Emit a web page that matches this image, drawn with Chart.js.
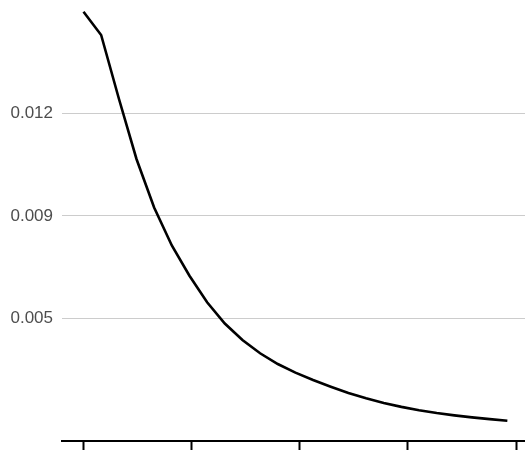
<!DOCTYPE html>
<html>
<head>
<meta charset="utf-8">
<script src="https://cdn.jsdelivr.net/npm/chart.js@4/dist/chart.umd.min.js"></script>
<style>
  html, body { margin: 0; padding: 0; background: #ffffff; }
  #wrap { width: 525px; height: 451px; position: relative; overflow: hidden; }
</style>
</head>
<body>
<div id="wrap"><canvas id="c" width="525" height="451"></canvas></div>
<script>
// Decay curve: x positions and density values
const xValues = [0, 4.08, 8.17, 12.25, 16.33, 20.42, 24.5, 28.58, 32.67, 36.75, 40.83, 44.92, 49,
                 53.08, 57.17, 61.25, 65.33, 69.42, 73.5, 77.58, 81.67, 85.75, 89.83, 93.92, 98];
const yValues = [0.015463, 0.014668, 0.012504, 0.010443, 0.008790, 0.007495, 0.006465, 0.005560,
                 0.004836, 0.004274, 0.003821, 0.003456, 0.003160, 0.002910, 0.002683, 0.002470,
                 0.002285, 0.002130, 0.001995, 0.001880, 0.001785, 0.001705, 0.001637, 0.001578, 0.001524];

// Axis breaks
const xTicks = [0, 25, 50, 75, 100];
const yTicks = [0.012, 0.0085, 0.005];
const yTickLabels = ['0.012', '0.009', '0.005'];

const points = xValues.map((x, i) => ({ x: x, y: yValues[i] }));

new Chart(document.getElementById('c'), {
  type: 'line',
  data: {
    datasets: [{
      data: points,
      borderColor: '#000000',
      borderWidth: 2.6,
      pointRadius: 0,
      tension: 0,
      fill: false
    }]
  },
  options: {
    responsive: false,
    animation: false,
    layout: { padding: 0 },
    plugins: { legend: { display: false }, tooltip: { enabled: false } },
    scales: {
      x: {
        type: 'linear',
        min: -4.97,
        max: 102.08,
        afterBuildTicks: (scale) => { scale.ticks = xTicks.map(v => ({ value: v })); },
        afterFit: (scale) => {
          scale.height = 10;
          scale.paddingLeft = 0;
          scale.paddingRight = 0;
        },
        ticks: { display: false },
        grid: {
          drawOnChartArea: false,
          drawTicks: true,
          tickLength: 9,
          tickWidth: 2,
          tickColor: '#000000'
        },
        border: { display: true, color: '#000000', width: 2 }
      },
      y: {
        type: 'linear',
        min: 0.000832,
        max: 0.015861,
        afterBuildTicks: (scale) => { scale.ticks = yTicks.map(v => ({ value: v })); },
        afterFit: (scale) => {
          scale.width = 62;
          scale.paddingTop = 0;
          scale.paddingBottom = 0;
        },
        ticks: {
          padding: 9,
          color: '#4d4d4d',
          font: { family: '"Liberation Sans", Arial, sans-serif', size: 17 },
          callback: (value, index) => yTickLabels[index]
        },
        grid: {
          color: '#cccccc',
          lineWidth: 1,
          drawTicks: false
        },
        border: { display: false }
      }
    }
  }
});
</script>
</body>
</html>
